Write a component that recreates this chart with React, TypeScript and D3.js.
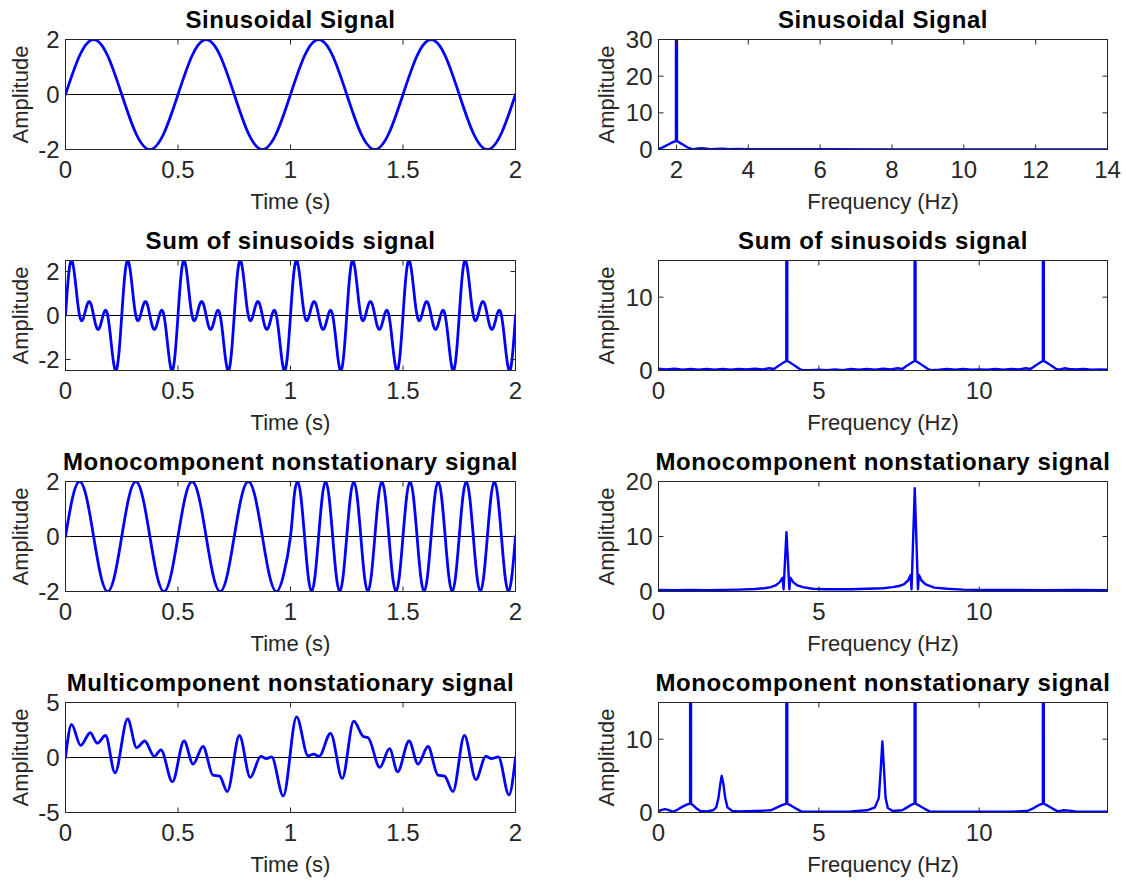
import React from 'react';
import * as d3 from 'd3';

const W = 1126;
const H = 882;

// ---------- axis ticks ----------
const timeTicks = [0, 0.5, 1, 1.5, 2];
const timeTickLabels = ['0', '0.5', '1', '1.5', '2'];
const freqTicksA = [2, 4, 6, 8, 10, 12, 14];
const freqTickLabelsA = ['2', '4', '6', '8', '10', '12', '14'];
const freqTicksB = [0, 5, 10];
const freqTickLabelsB = ['0', '5', '10'];
const ampTicks2 = [-2, 0, 2];
const ampTickLabels2 = ['-2', '0', '2'];
const ampTicks5 = [-5, 0, 5];
const ampTickLabels5 = ['-5', '0', '5'];
const specTicks30 = [0, 10, 20, 30];
const specTickLabels30 = ['0', '10', '20', '30'];
const specTicks15 = [0, 10];
const specTickLabels15 = ['0', '10'];
const specTicks20 = [0, 10, 20];
const specTickLabels20 = ['0', '10', '20'];

// ---------- time signals ----------
// Sinusoidal signal, samples every 0.0625 s
const sineStep = 0.0625;
const sineValues = [
  0, 1.41, 2, 1.41, 0, -1.41, -2, -1.41,
  0, 1.41, 2, 1.41, 0, -1.41, -2, -1.41,
  0, 1.41, 2, 1.41, 0, -1.41, -2, -1.41,
  0, 1.41, 2, 1.41, 0, -1.41, -2, -1.41,
  0,
];

// Sum of sinusoids, samples every 0.25/24 s
const sumStep = 0.25 / 24;
const sumValues = [
  0, 1.47, 2.37, 2.41, 1.73, 0.76, 0, -0.24, 0, 0.41, 0.63, 0.47, 0, -0.47, -0.63, -0.41, 0, 0.24, 0, -0.76, -1.73, -2.41, -2.37, -1.47,
  0, 1.47, 2.37, 2.41, 1.73, 0.76, 0, -0.24, 0, 0.41, 0.63, 0.47, 0, -0.47, -0.63, -0.41, 0, 0.24, 0, -0.76, -1.73, -2.41, -2.37, -1.47,
  0, 1.47, 2.37, 2.41, 1.73, 0.76, 0, -0.24, 0, 0.41, 0.63, 0.47, 0, -0.47, -0.63, -0.41, 0, 0.24, 0, -0.76, -1.73, -2.41, -2.37, -1.47,
  0, 1.47, 2.37, 2.41, 1.73, 0.76, 0, -0.24, 0, 0.41, 0.63, 0.47, 0, -0.47, -0.63, -0.41, 0, 0.24, 0, -0.76, -1.73, -2.41, -2.37, -1.47,
  0, 1.47, 2.37, 2.41, 1.73, 0.76, 0, -0.24, 0, 0.41, 0.63, 0.47, 0, -0.47, -0.63, -0.41, 0, 0.24, 0, -0.76, -1.73, -2.41, -2.37, -1.47,
  0, 1.47, 2.37, 2.41, 1.73, 0.76, 0, -0.24, 0, 0.41, 0.63, 0.47, 0, -0.47, -0.63, -0.41, 0, 0.24, 0, -0.76, -1.73, -2.41, -2.37, -1.47,
  0, 1.47, 2.37, 2.41, 1.73, 0.76, 0, -0.24, 0, 0.41, 0.63, 0.47, 0, -0.47, -0.63, -0.41, 0, 0.24, 0, -0.76, -1.73, -2.41, -2.37, -1.47,
  0, 1.47, 2.37, 2.41, 1.73, 0.76, 0, -0.24, 0, 0.41, 0.63, 0.47, 0, -0.47, -0.63, -0.41, 0, 0.24, 0, -0.76, -1.73, -2.41, -2.37, -1.47,
  0,
];

// Monocomponent nonstationary: first second sampled every 0.03125 s, second every 0.015625 s
const monoStepA = 0.03125;
const monoValuesA = [
  0, 1.41, 2, 1.41, 0, -1.41, -2, -1.41,
  0, 1.41, 2, 1.41, 0, -1.41, -2, -1.41,
  0, 1.41, 2, 1.41, 0, -1.41, -2, -1.41,
  0, 1.41, 2, 1.41, 0, -1.41, -2, -1.41,
];
const monoStartB = 1;
const monoStepB = 0.015625;
const monoValuesB = [
  0, 1.41, 2, 1.41, 0, -1.41, -2, -1.41,
  0, 1.41, 2, 1.41, 0, -1.41, -2, -1.41,
  0, 1.41, 2, 1.41, 0, -1.41, -2, -1.41,
  0, 1.41, 2, 1.41, 0, -1.41, -2, -1.41,
  0, 1.41, 2, 1.41, 0, -1.41, -2, -1.41,
  0, 1.41, 2, 1.41, 0, -1.41, -2, -1.41,
  0, 1.41, 2, 1.41, 0, -1.41, -2, -1.41,
  0, 1.41, 2, 1.41, 0, -1.41, -2, -1.41,
  0,
];

// Multicomponent nonstationary (extrema)
const multiTimes = [
  0, 0.027, 0.067, 0.11, 0.141, 0.178, 0.22, 0.276, 0.316, 0.352, 0.395, 0.424, 0.475, 0.527, 0.567, 0.611,
  0.655, 0.685, 0.719, 0.773, 0.821, 0.868, 0.893, 0.916, 0.968, 1.027, 1.078, 1.103, 1.127, 1.178, 1.23, 1.281,
  1.324, 1.345, 1.397, 1.44, 1.476, 1.527, 1.567, 1.611, 1.655, 1.685, 1.722, 1.773, 1.824, 1.868, 1.893, 1.924,
  1.971, 2,
];
const multiValues = [
  0, 3.0, 1.1, 2.25, 1.3, 2.0, -1.4, 3.5, 0.9, 1.5, 0.1, 0.7, -2.2, 1.5, -0.6, 1.0,
  -1.6, -1.7, -3.1, 2.0, -1.8, 0.1, -0.1, 0.05, -3.5, 3.7, 0.15, 0.3, 0.1, 2.2, -1.9, 3.3,
  1.9, 1.8, -0.9, 0.8, -1.3, 1.5, -0.6, 1.0, -1.6, -1.7, -3.1, 2.0, -2.0, 0.1, -0.1, 0.05,
  -3.4, 0,
];

// ---------- spectra ----------
const spec1Freq = [1.5, 1.6, 1.7, 1.8, 1.9, 1.985, 2.0, 2.015, 2.1, 2.2, 2.3, 2.45, 2.6, 2.7, 2.85, 2.95, 3.1, 3.3, 3.5, 3.7, 4, 4.5, 5, 6, 8, 10, 12, 14];
const spec1Amp = [0.1, 0.5, 1.0, 1.5, 2.0, 2.3, 250, 2.3, 1.8, 1.2, 0.6, 0.05, 0.3, 0.35, 0.2, 0.05, 0.15, 0.2, 0.1, 0.12, 0.1, 0.08, 0.05, 0.05, 0.04, 0.04, 0.03, 0.03];

const spec2Freq = [
  0, 0.25, 0.5, 0.75, 1, 1.25, 1.5, 1.75, 2, 2.25, 2.5, 2.75, 3, 3.25, 3.45, 3.6, 3.7, 3.8, 3.9, 3.985, 4.0, 4.015, 4.1, 4.2, 4.3, 4.4, 4.5,
  4.75, 5, 5.25, 5.5, 5.75, 6, 6.25, 6.5, 6.75, 7, 7.25, 7.45, 7.6, 7.7, 7.8, 7.9, 7.985, 8.0, 8.015, 8.1, 8.2, 8.3, 8.4, 8.5,
  8.75, 9, 9.25, 9.5, 9.75, 10, 10.25, 10.5, 10.75, 11, 11.25, 11.45, 11.6, 11.7, 11.8, 11.9, 11.985, 12.0, 12.015, 12.1, 12.2, 12.3, 12.4, 12.5,
  12.65, 12.8, 13, 13.25, 13.5, 13.75, 14,
];
const spec2Amp = [
  0.25, 0.15, 0.25, 0.1, 0.2, 0.1, 0.2, 0.1, 0.2, 0.1, 0.2, 0.15, 0.25, 0.15, 0.3, 0.2, 0.5, 0.8, 1.1, 1.3, 250, 1.3, 1.1, 0.8, 0.5, 0.2, 0.05,
  0.05, 0.1, 0.05, 0.15, 0.05, 0.2, 0.1, 0.2, 0.1, 0.25, 0.15, 0.3, 0.2, 0.5, 0.8, 1.1, 1.3, 250, 1.3, 1.1, 0.8, 0.5, 0.2, 0.05,
  0.1, 0.2, 0.1, 0.2, 0.1, 0.15, 0.1, 0.2, 0.1, 0.2, 0.15, 0.3, 0.2, 0.5, 0.8, 1.1, 1.3, 250, 1.3, 1.1, 0.8, 0.5, 0.2, 0.1,
  0.3, 0.2, 0.15, 0.2, 0.1, 0.15, 0.1,
];

const spec3Freq = [
  0, 0.5, 1, 1.5, 2, 2.5, 3, 3.3, 3.5, 3.65, 3.78, 3.87, 3.9, 3.99, 4.08, 4.11, 4.2, 4.33, 4.5, 4.8, 5.2, 5.5, 6, 6.5, 7,
  7.3, 7.5, 7.65, 7.78, 7.86, 7.89, 7.99, 8.09, 8.12, 8.2, 8.33, 8.6, 9, 9.5, 10, 11, 12, 13, 14,
];
const spec3Amp = [
  0.3, 0.25, 0.3, 0.25, 0.3, 0.35, 0.45, 0.6, 0.8, 1.1, 1.7, 2.5, 0.4, 10.8, 0.4, 2.5, 1.7, 1.1, 0.8, 0.5, 0.4, 0.4, 0.4, 0.5, 0.6,
  0.8, 1.0, 1.3, 2.0, 3.0, 0.4, 18.8, 0.4, 3.0, 2.0, 1.3, 0.7, 0.5, 0.35, 0.3, 0.3, 0.25, 0.3, 0.25,
];

const spec4Freq = [
  0, 0.1, 0.2, 0.3, 0.45, 0.6, 0.75, 0.9, 0.985, 1.0, 1.015, 1.1, 1.2, 1.3, 1.5, 1.7, 1.8, 1.87, 1.93, 1.97, 2.02, 2.08, 2.15, 2.3, 2.5,
  3, 3.3, 3.5, 3.7, 3.85, 3.985, 4.0, 4.015, 4.15, 4.3, 4.45, 5, 6, 6.5, 6.75, 6.87, 6.93, 6.98, 7.03, 7.08, 7.15, 7.3,
  7.6, 7.75, 7.9, 7.985, 8.0, 8.015, 8.15, 8.3, 8.45, 9, 10, 11, 11.5, 11.7, 11.85, 11.985, 12.0, 12.015, 12.15, 12.3, 12.45,
  12.6, 12.8, 13, 14,
];
const spec4Amp = [
  0.2, 0.35, 0.45, 0.35, 0.1, 0.4, 0.8, 1.1, 1.2, 250, 1.2, 0.9, 0.5, 0.2, 0.15, 0.3, 0.7, 2.0, 4.0, 5.0, 4.0, 2.0, 0.7, 0.2, 0.15,
  0.2, 0.25, 0.3, 0.7, 1.0, 1.2, 250, 1.2, 0.9, 0.5, 0.15, 0.1, 0.15, 0.3, 0.7, 2.0, 6.0, 9.7, 6.0, 2.0, 0.6, 0.2,
  0.3, 0.7, 1.1, 1.2, 250, 1.2, 0.9, 0.5, 0.15, 0.1, 0.1, 0.1, 0.2, 0.6, 1.0, 1.2, 250, 1.2, 0.9, 0.5, 0.15,
  0.3, 0.25, 0.15, 0.1,
];

// ---------- helpers ----------
type Pt = [number, number];
const uniform = (start: number, step: number, vals: number[]): Pt[] => vals.map((v, i) => [start + i * step, v]);
const zipPts = (xs: number[], ys: number[]): Pt[] => xs.map((x, i) => [x, ys[i]]);

const FONT = '"Liberation Sans", Arial, Helvetica, sans-serif';
const AXC = '#262626';
const BLUE = '#0000ff';

interface PanelProps {
  id: string;
  x0: number;
  y0: number;
  w: number;
  h: number;
  xDomain: [number, number];
  yDomain: [number, number];
  xTicks: number[];
  xLabels: string[];
  yTicks: number[];
  yLabels: string[];
  title: string;
  xlabel: string;
  ylabelX: number;
  points: Pt[];
  curve: d3.CurveFactory;
  zeroLine: boolean;
  sw: number;
}

function Panel(p: PanelProps) {
  const x = d3.scaleLinear().domain(p.xDomain).range([p.x0, p.x0 + p.w]);
  const y = d3.scaleLinear().domain(p.yDomain).range([p.y0 + p.h, p.y0]);
  const line = d3.line<Pt>().x((d) => x(d[0])).y((d) => y(d[1])).curve(p.curve);
  const tl = 5;
  const bottom = p.y0 + p.h;
  const right = p.x0 + p.w;
  const cx = p.x0 + p.w / 2;
  const cy = p.y0 + p.h / 2;
  return (
    <g>
      <defs>
        <clipPath id={p.id}>
          <rect x={p.x0} y={p.y0} width={p.w} height={p.h} />
        </clipPath>
      </defs>
      {p.zeroLine && (
        <line x1={p.x0} x2={right} y1={y(0)} y2={y(0)} stroke="#000" strokeWidth={1} />
      )}
      <path
        d={line(p.points) || ''}
        fill="none"
        stroke={BLUE}
        strokeWidth={p.sw}
        strokeLinejoin="round"
        strokeLinecap="round"
        clipPath={`url(#${p.id})`}
      />
      <rect x={p.x0} y={p.y0} width={p.w} height={p.h} fill="none" stroke={AXC} strokeWidth={1} />
      {p.xTicks.map((t, i) => (
        <g key={'xt' + i}>
          <line x1={x(t)} x2={x(t)} y1={bottom} y2={bottom - tl} stroke={AXC} strokeWidth={1} />
          <line x1={x(t)} x2={x(t)} y1={p.y0} y2={p.y0 + tl} stroke={AXC} strokeWidth={1} />
          <text x={x(t)} y={bottom + 28} textAnchor="middle" fontSize={24} fill={AXC} fontFamily={FONT}>
            {p.xLabels[i]}
          </text>
        </g>
      ))}
      {p.yTicks.map((t, i) => (
        <g key={'yt' + i}>
          <line x1={p.x0} x2={p.x0 + tl} y1={y(t)} y2={y(t)} stroke={AXC} strokeWidth={1} />
          <line x1={right} x2={right - tl} y1={y(t)} y2={y(t)} stroke={AXC} strokeWidth={1} />
          <text x={p.x0 - 6} y={y(t)} dy="0.36em" textAnchor="end" fontSize={24} fill={AXC} fontFamily={FONT}>
            {p.yLabels[i]}
          </text>
        </g>
      ))}
      <text x={cx} y={p.y0 - 12} textAnchor="middle" fontSize={24} letterSpacing={0.6} fontWeight="bold" fill="#000" fontFamily={FONT}>
        {p.title}
      </text>
      <text x={cx} y={bottom + 59} textAnchor="middle" fontSize={22} fill={AXC} fontFamily={FONT}>
        {p.xlabel}
      </text>
      <text
        transform={`translate(${p.ylabelX},${cy}) rotate(-90)`}
        textAnchor="middle"
        fontSize={22}
        fill={AXC}
        fontFamily={FONT}
      >
        Amplitude
      </text>
    </g>
  );
}

const LX = 65.5;
const LW = 450;
const RX = 658.5;
const RW = 449;
const ROWS = [39.5, 260.5, 481.5, 702.5];
const RH = 110;

export default function App() {
  const tl = 'Time (s)';
  const fl = 'Frequency (Hz)';
  return (
    <svg
      width={W}
      height={H}
      viewBox={`0 0 ${W} ${H}`}
      style={{ position: 'absolute', left: 0, top: 0, background: '#fff' }}
    >
      <rect x={0} y={0} width={W} height={H} fill="#fff" />
      <Panel id="c1" x0={LX} y0={ROWS[0]} w={LW} h={RH} xDomain={[0, 2]} yDomain={[-2, 2]}
        xTicks={timeTicks} xLabels={timeTickLabels} yTicks={ampTicks2} yLabels={ampTickLabels2}
        title="Sinusoidal Signal" xlabel={tl} ylabelX={28} points={uniform(0, sineStep, sineValues)}
        curve={d3.curveNatural} zeroLine sw={2.8} />
      <Panel id="c2" x0={RX} y0={ROWS[0]} w={RW} h={RH} xDomain={[1.5, 14]} yDomain={[0, 30]}
        xTicks={freqTicksA} xLabels={freqTickLabelsA} yTicks={specTicks30} yLabels={specTickLabels30}
        title="Sinusoidal Signal" xlabel={fl} ylabelX={614} points={zipPts(spec1Freq, spec1Amp)}
        curve={d3.curveLinear} zeroLine={false} sw={2.4} />

      <Panel id="c3" x0={LX} y0={ROWS[1]} w={LW} h={RH} xDomain={[0, 2]} yDomain={[-2.5, 2.5]}
        xTicks={timeTicks} xLabels={timeTickLabels} yTicks={ampTicks2} yLabels={ampTickLabels2}
        title="Sum of sinusoids signal" xlabel={tl} ylabelX={28} points={uniform(0, sumStep, sumValues)}
        curve={d3.curveNatural} zeroLine sw={2.8} />
      <Panel id="c4" x0={RX} y0={ROWS[1]} w={RW} h={RH} xDomain={[0, 14]} yDomain={[0, 15]}
        xTicks={freqTicksB} xLabels={freqTickLabelsB} yTicks={specTicks15} yLabels={specTickLabels15}
        title="Sum of sinusoids signal" xlabel={fl} ylabelX={614} points={zipPts(spec2Freq, spec2Amp)}
        curve={d3.curveLinear} zeroLine sw={2.4} />

      <Panel id="c5" x0={LX} y0={ROWS[2]} w={LW} h={RH} xDomain={[0, 2]} yDomain={[-2, 2]}
        xTicks={timeTicks} xLabels={timeTickLabels} yTicks={ampTicks2} yLabels={ampTickLabels2}
        title="Monocomponent nonstationary signal" xlabel={tl} ylabelX={28}
        points={[...uniform(0, monoStepA, monoValuesA), ...uniform(monoStartB, monoStepB, monoValuesB)]}
        curve={d3.curveNatural} zeroLine sw={2.8} />
      <Panel id="c6" x0={RX} y0={ROWS[2]} w={RW} h={RH} xDomain={[0, 14]} yDomain={[0, 20]}
        xTicks={freqTicksB} xLabels={freqTickLabelsB} yTicks={specTicks20} yLabels={specTickLabels20}
        title="Monocomponent nonstationary signal" xlabel={fl} ylabelX={614} points={zipPts(spec3Freq, spec3Amp)}
        curve={d3.curveLinear} zeroLine sw={2.4} />

      <Panel id="c7" x0={LX} y0={ROWS[3]} w={LW} h={RH} xDomain={[0, 2]} yDomain={[-5, 5]}
        xTicks={timeTicks} xLabels={timeTickLabels} yTicks={ampTicks5} yLabels={ampTickLabels5}
        title="Multicomponent nonstationary signal" xlabel={tl} ylabelX={28} points={zipPts(multiTimes, multiValues)}
        curve={d3.curveMonotoneX} zeroLine sw={2.8} />
      <Panel id="c8" x0={RX} y0={ROWS[3]} w={RW} h={RH} xDomain={[0, 14]} yDomain={[0, 15]}
        xTicks={freqTicksB} xLabels={freqTickLabelsB} yTicks={specTicks15} yLabels={specTickLabels15}
        title="Monocomponent nonstationary signal" xlabel={fl} ylabelX={614} points={zipPts(spec4Freq, spec4Amp)}
        curve={d3.curveLinear} zeroLine sw={2.4} />
    </svg>
  );
}
